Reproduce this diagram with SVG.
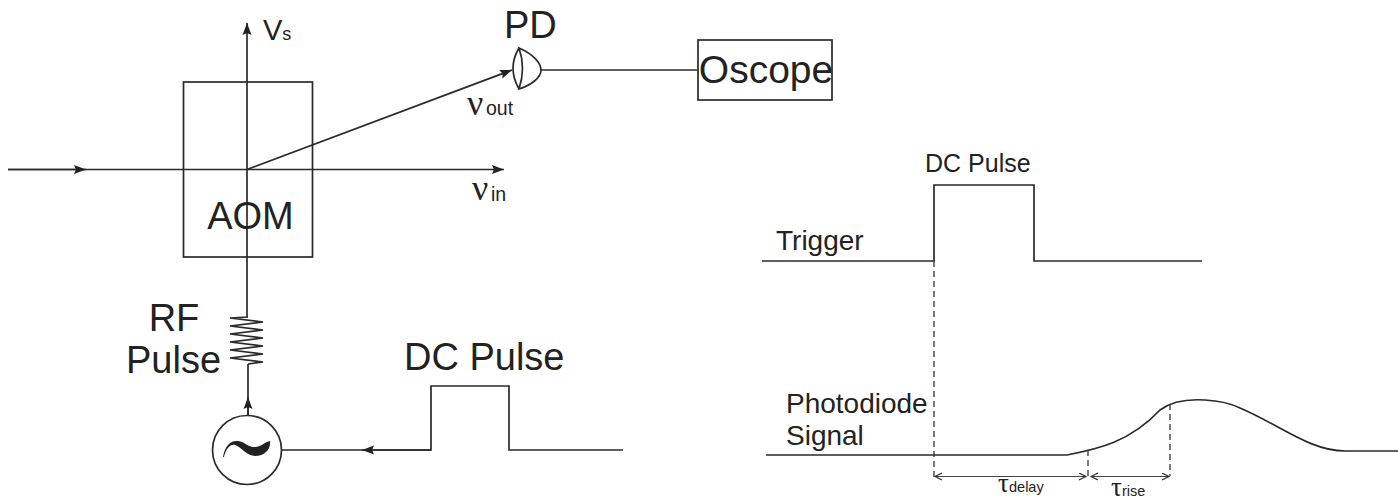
<svg xmlns="http://www.w3.org/2000/svg" width="1398" height="500" viewBox="0 0 1398 500">
<defs>
<marker id="ah" markerUnits="userSpaceOnUse" markerWidth="14" markerHeight="12" refX="12" refY="5" orient="auto"><path d="M0 0.500L12 5L0 9.500L2 5Z" fill="#222"/></marker>
<marker id="oa" markerUnits="userSpaceOnUse" markerWidth="10" markerHeight="10" refX="7" refY="4" orient="auto-start-reverse"><path d="M0 0.500L7 4L0 7.500" fill="none" stroke="#333" stroke-width="1.200"/></marker>
</defs>
<style>
.l{fill:none;stroke:#2a2a2a;stroke-width:1.700}
.t{fill:none;stroke:#444;stroke-width:1.200}
.d{fill:none;stroke:#333;stroke-width:1.300;stroke-dasharray:6 4}
text{font-family:"Liberation Sans",Arial,sans-serif;fill:#222}
.g{font-family:"Liberation Serif","DejaVu Serif",serif}
</style>
<rect width="1398" height="500" fill="#fff"/>
<g id="connectors">
<path class="l" d="M8 169.500H504" marker-end="url(#ah)"/>
<path class="l" d="M8 169.500H86" marker-end="url(#ah)"/>
<path class="l" d="M247 317V23" marker-end="url(#ah)"/>
<path class="l" d="M247 169.500L512 70" marker-end="url(#ah)"/>
<path class="l" d="M541 70H698"/>
<path class="l" d="M248 364V416"/>
<path class="l" d="M248 416V397" marker-end="url(#ah)"/>
<path class="l" d="M282 450H431V386H509V450H623"/>
<path class="l" d="M431 450H362" marker-end="url(#ah)"/>
</g>
<g id="aom"><rect class="l" x="183.500" y="82" width="129" height="175"/><text x="250.500" y="229" font-size="38" text-anchor="middle">AOM</text></g>
<g id="pd"><path class="l" d="M519 48Q507 68 519 89M519 48C533 54 541 63 541 70C541 78 531 85 519 89Q526 68 519 48Z"/><text x="504" y="38" font-size="38">PD</text></g>
<g id="oscope"><rect class="l" x="698" y="40" width="134" height="60"/><text x="766" y="83" font-size="39" text-anchor="middle">Oscope</text></g>
<g id="rf"><path class="l" d="M248 317L230 318L263 322L230 326L263 330L230 334L263 338L230 342L263 346L230 350L263 354L230 358L263 362L248 364"/><text x="174" y="331" font-size="38" text-anchor="middle">RF</text><text x="173.500" y="373" font-size="38" text-anchor="middle">Pulse</text></g>
<g id="source"><circle class="l" cx="247" cy="450" r="34.500"/><path fill="#222" d="M223 457C225 445 231 440 238 441C245 442 249 448 256 447C262 446 265 442 270 441C271 449 265 456 255 456C247 456 241 447 235 445C230 444 226 449 224 457Z"/></g>
<g id="labels">
<text x="263" y="40" font-size="29">V<tspan font-size="18">s</tspan></text>
<text class="g" x="467" y="115" font-size="36">ν</text><text x="486" y="115" font-size="19.500">out</text>
<text class="g" x="472" y="200" font-size="36">ν</text><text x="491" y="201" font-size="19.500">in</text>
<text x="404" y="370" font-size="38">DC Pulse</text>
</g>
<g id="timing">
<text x="925" y="172" font-size="25">DC Pulse</text>
<text x="776" y="250" font-size="28">Trigger</text>
<text x="786" y="413" font-size="28">Photodiode</text>
<text x="786" y="445" font-size="28">Signal</text>
<path class="l" d="M762 261H934V185H1034V261H1202"/>
<path class="l" d="M766 455H1067C1098 449 1130 442 1160 410C1172 401 1190 399 1205 400C1222 401 1232 404 1240 408C1280 425 1310 451 1345 451H1398"/>
<path class="d" d="M934 261V477M1088 450V480M1170 404V476"/>
<path class="t" d="M935 476.500H1086" marker-start="url(#oa)" marker-end="url(#oa)"/>
<path class="t" d="M1091 476.500H1169" marker-start="url(#oa)" marker-end="url(#oa)"/>
<text class="g" x="998" y="492" font-size="27">τ</text><text x="1009" y="492" font-size="14.500">delay</text>
<text class="g" x="1111" y="496" font-size="27">τ</text><text x="1122" y="496" font-size="14.500">rise</text>
</g>
</svg>
